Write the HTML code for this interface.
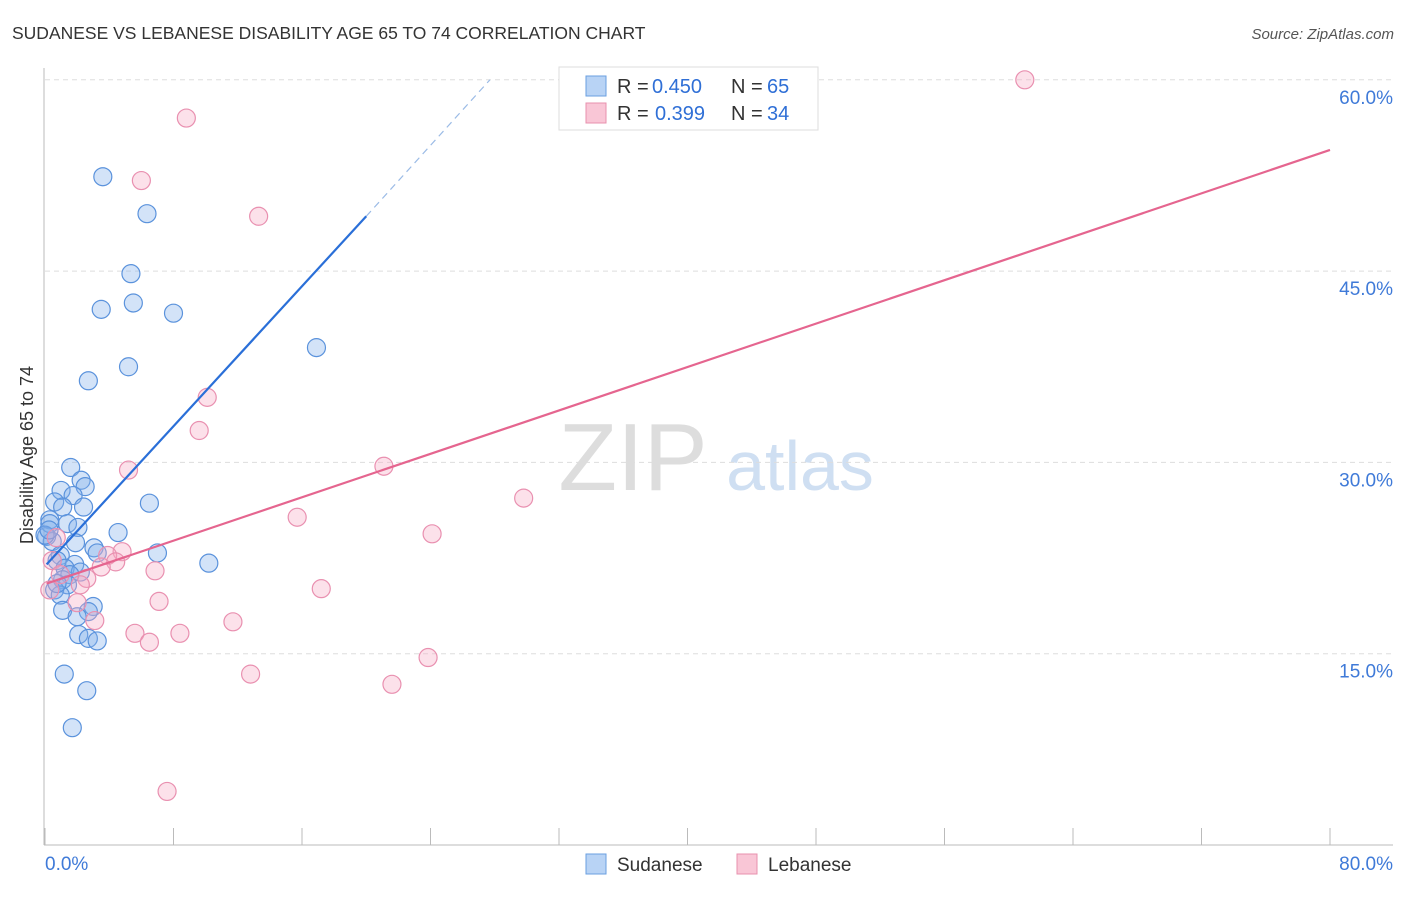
<!DOCTYPE html>
<html><head><meta charset="utf-8"><style>
body{margin:0;background:#fff;font-family:"Liberation Sans",sans-serif}
svg text{font-family:"Liberation Sans",sans-serif}
</style></head><body>
<svg id="c" width="1406" height="892">
<text x="12" y="39" font-size="17.5" fill="#333">SUDANESE VS LEBANESE DISABILITY AGE 65 TO 74 CORRELATION CHART</text>
<text x="1394" y="39" font-size="15" fill="#555" text-anchor="end" font-style="italic">Source: ZipAtlas.com</text>
<text x="633" y="490" font-size="96" fill="#ddd" font-family="Liberation Serif" text-anchor="middle">ZIP</text>
<text x="800" y="490" font-size="70" fill="#cfdff2" text-anchor="middle">atlas</text>
<text transform="translate(33,455) rotate(-90)" font-size="18" fill="#333" text-anchor="middle">Disability Age 65 to 74</text>
<g id="grid"></g><g id="marks"></g>
<g>
<rect x="559" y="67" width="259" height="63" fill="#fff" stroke="#ddd"/>
<rect x="586" y="76" width="20" height="20" fill="#b8d3f5" stroke="#6a9fe0"/>
<rect x="586" y="103" width="20" height="20" fill="#f9c6d6" stroke="#e890ae"/>
<text x="617" y="93" font-size="20" fill="#333">R =</text>
<text x="652" y="93" font-size="20" fill="#2f6fd6">0.450</text>
<text x="731" y="93" font-size="20" fill="#333">N =</text>
<text x="767" y="93" font-size="20" fill="#2f6fd6">65</text>
<text x="617" y="120" font-size="20" fill="#333">R =</text>
<text x="655" y="120" font-size="20" fill="#2f6fd6">0.399</text>
<text x="731" y="120" font-size="20" fill="#333">N =</text>
<text x="767" y="120" font-size="20" fill="#2f6fd6">34</text>
</g>
<g>
<rect x="586" y="854" width="20" height="20" fill="#b8d3f5" stroke="#6a9fe0"/>
<text x="617" y="871" font-size="19" fill="#333">Sudanese</text>
<rect x="737" y="854" width="20" height="20" fill="#f9c6d6" stroke="#e890ae"/>
<text x="768" y="871" font-size="19" fill="#333">Lebanese</text>
</g>
</svg>
<script>
const yTicks=[15,30,45,60];
const yTickLabels=["15.0%","30.0%","45.0%","60.0%"];
const xTicks=[0,8,16,24,32,40,48,56,64,72,80];
const sudX=[3.6,6.35,5.35,5.5,3.5,8.0,16.9,5.2,2.7,1.6,2.25,2.5,1.0,1.75,0.6,6.5,1.1,2.4,0.3,1.4,2.05,4.55,0.1,0.45,1.9,3.05,3.25,7.0,0.95,0.75,10.2,1.85,1.25,2.2,1.55,1.1,1.4,0.6,0.95,3.0,1.1,2.7,2.0,2.1,2.7,3.25,1.2,2.6,1.7,0.3,0,0.25,0.75];
const sudY=[52.4,49.5,44.8,42.5,42.0,41.7,39.0,37.5,36.4,29.6,28.6,28.1,27.8,27.4,26.9,26.8,26.5,26.5,25.5,25.2,24.9,24.5,24.2,23.8,23.7,23.3,22.9,22.9,22.7,22.3,22.1,22.0,21.7,21.4,21.2,20.8,20.4,20.0,19.6,18.7,18.4,18.3,17.9,16.5,16.2,16.0,13.4,12.1,9.2,25.2,24.3,24.7,20.5];
const lebX=[61.0,8.8,6.0,13.3,10.1,9.6,21.1,5.2,29.8,15.7,24.1,0.7,4.8,3.9,4.4,3.5,6.85,2.6,2.2,17.2,7.1,2.0,3.1,11.7,5.6,8.4,6.5,23.85,12.8,21.6,7.6,0.45,0.95,0.3];
const lebY=[60.0,57.0,52.1,49.3,35.1,32.5,29.7,29.4,27.2,25.7,24.4,24.1,23.0,22.7,22.2,21.8,21.5,20.9,20.4,20.1,19.1,19.0,17.6,17.5,16.6,16.6,15.9,14.7,13.4,12.6,4.2,22.3,21.2,20.0];
const sudTrend=[0.1,22.0,20.0,49.3,27.7,60];
const lebTrend=[0.1,20.5,80,54.5];
const X=v=>45+v/80*1285, Y=v=>845-v/15*191.3;
const NS="http://www.w3.org/2000/svg";
function mk(t,a,p){const e=document.createElementNS(NS,t);for(const k in a)e.setAttribute(k,a[k]);p.appendChild(e);return e;}
const g=document.getElementById('grid'), m=document.getElementById('marks');
yTicks.forEach((t,i)=>{
 const l=mk('line',{x1:45,x2:1393,y1:Y(t),y2:Y(t),stroke:'#ddd','stroke-dasharray':'5,4'},g);
 
 
 const tx=mk('text',{x:1393,y:Y(t)+24,'font-size':19,fill:'#3f7ad8','text-anchor':'end'},g);
 tx.textContent=yTickLabels[i];
 
 
});
const ax=mk('line',{x1:44,x2:44,y1:68,y2:845,stroke:'#bbb'},g);


const bx=mk('line',{x1:44,x2:1393,y1:845,y2:845,stroke:'#bbb'},g);


xTicks.forEach(t=>{
 const l=mk('line',{x1:X(t),x2:X(t),y1:828,y2:845,stroke:'#bbb'},g);
 
 
});
[[0,"0.0%","start",45],[80,"80.0%","end",1393]].forEach(a=>{
 const tx=mk('text',{x:a[3],y:870,'font-size':19,fill:'#3f7ad8','text-anchor':a[2]},g);
 tx.textContent=a[1];
 
 
});
sudX.forEach((x,i)=>{
 const c=mk('circle',{cx:X(x),cy:Y(sudY[i]),r:9,fill:'rgba(130,175,235,0.35)',stroke:'#5a92dc','stroke-width':1.2},m);
 
 
});
lebX.forEach((x,i)=>{
 const c=mk('circle',{cx:X(x),cy:Y(lebY[i]),r:9,fill:'rgba(245,170,195,0.35)',stroke:'#e990b0','stroke-width':1.2},m);
 
 
});
const t1=mk('line',{x1:X(sudTrend[0]),y1:Y(sudTrend[1]),x2:X(sudTrend[2]),y2:Y(sudTrend[3]),stroke:'#2a6fd8','stroke-width':2.2},m);


const t2=mk('line',{x1:X(sudTrend[2]),y1:Y(sudTrend[3]),x2:X(sudTrend[4]),y2:Y(sudTrend[5]),stroke:'#9bbbe6','stroke-width':1.2,'stroke-dasharray':'7,5'},m);


const t3=mk('line',{x1:X(lebTrend[0]),y1:Y(lebTrend[1]),x2:X(lebTrend[2]),y2:Y(lebTrend[3]),stroke:'#e5658f','stroke-width':2.2},m);


</script>
</body></html>
